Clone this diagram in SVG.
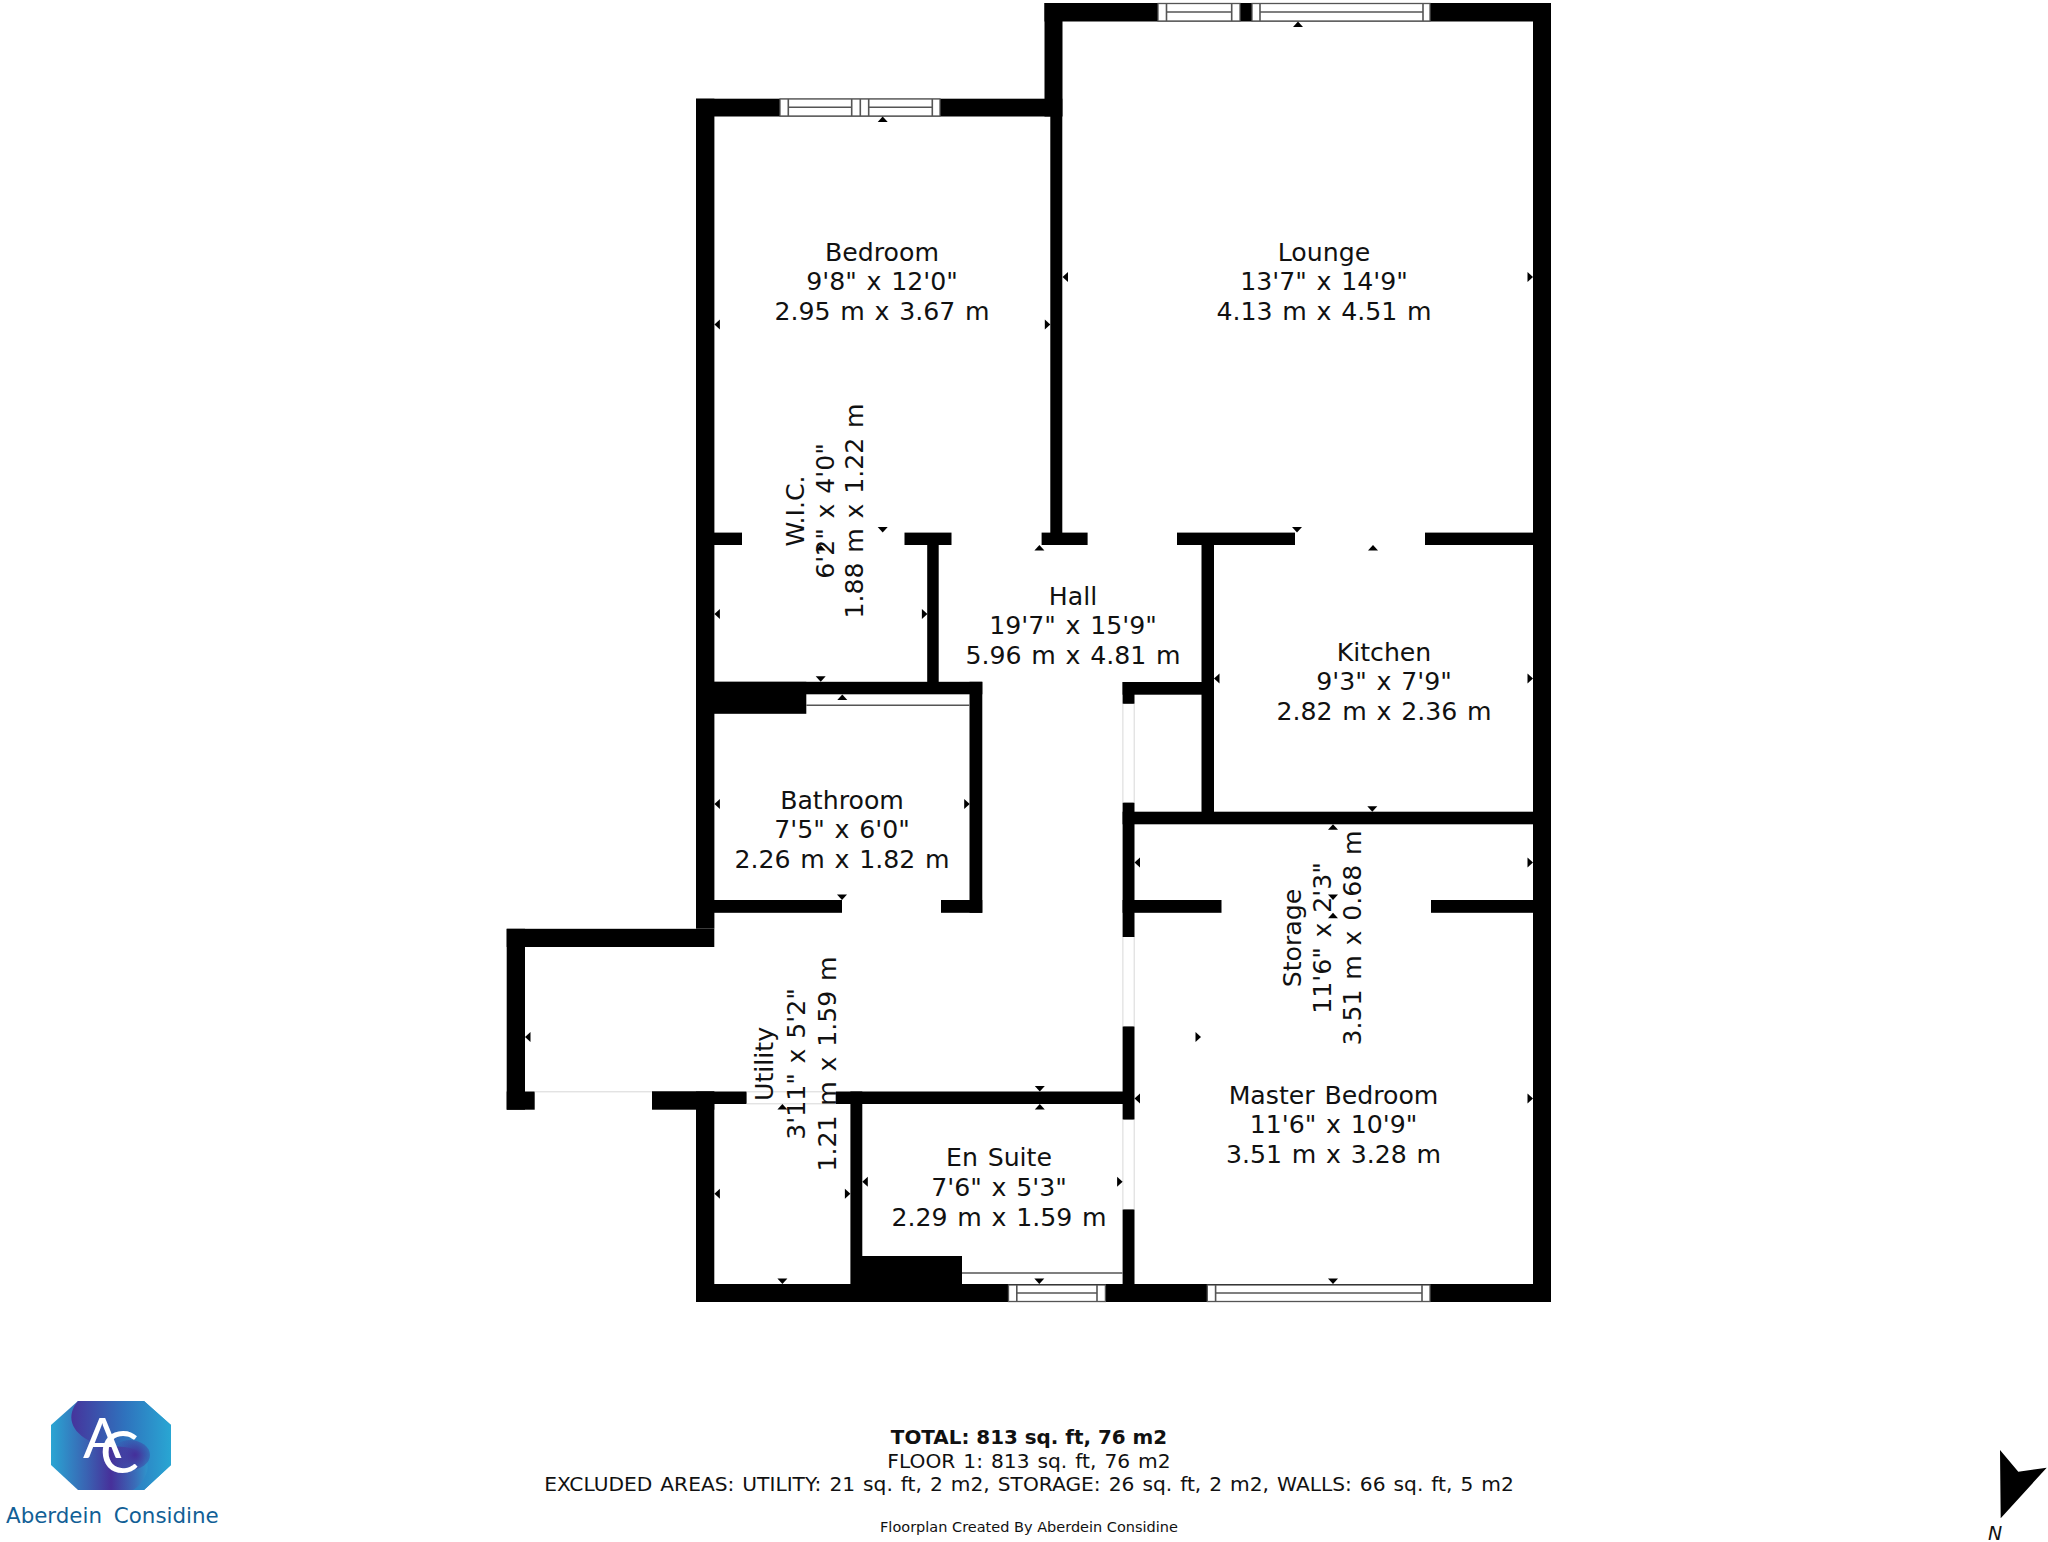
<svg xmlns="http://www.w3.org/2000/svg" width="2048" height="1542" viewBox="0 0 2048 1542">
<style>
.wall{fill:#000}
.win{fill:#fff;stroke:#555;stroke-width:1.3}
.thin{stroke:#555;stroke-width:1.6;fill:none}
.door{stroke:#d8d8d8;stroke-width:1;fill:none}
.lab{font-family:"DejaVu Sans",sans-serif;font-size:25.2px;word-spacing:1.75px;fill:#111;text-anchor:middle}
.foot{font-family:"DejaVu Sans",sans-serif;font-size:20.2px;word-spacing:1.6px;fill:#111;text-anchor:middle}
</style>
<defs>
<polygon id="au" points="0,0 5,5.5 -5,5.5" fill="#000"/>
<polygon id="ad" points="0,0 5,-5.5 -5,-5.5" fill="#000"/>
<polygon id="al" points="0,0 5.5,-5 5.5,5" fill="#000"/>
<polygon id="ar" points="0,0 -5.5,-5 -5.5,5" fill="#000"/>
<linearGradient id="lobeB" gradientUnits="userSpaceOnUse" x1="51" y1="0" x2="171" y2="0"><stop offset="0" stop-color="#2aa5d3"/><stop offset="0.3" stop-color="#3a62b2"/><stop offset="0.5" stop-color="#47309a"/><stop offset="0.7" stop-color="#3a6cb8"/><stop offset="0.85" stop-color="#2aa5d3"/><stop offset="1" stop-color="#2aa5d3"/></linearGradient>
<linearGradient id="lobeA" gradientUnits="userSpaceOnUse" x1="68" y1="0" x2="171" y2="0"><stop offset="0" stop-color="#47309a"/><stop offset="0.55" stop-color="#2f72bd"/><stop offset="1" stop-color="#29a6d3"/></linearGradient>
<radialGradient id="core" gradientUnits="userSpaceOnUse" cx="135" cy="1455" r="22"><stop offset="0" stop-color="#442f9a"/><stop offset="1" stop-color="#442f9a" stop-opacity="0"/></radialGradient>
</defs>

<g id="walls" class="wall">
<rect x="1044.5" y="3" width="506.5" height="18.5"/>
<rect x="1044.5" y="3" width="18" height="113.5"/>
<rect x="1533" y="3" width="18" height="1299"/>
<rect x="1050.3" y="98.7" width="12" height="446.3"/>
<rect x="696" y="98.7" width="366" height="17.8"/>
<rect x="696" y="98.7" width="18.4" height="830"/>
<rect x="714" y="532.6" width="28" height="12.4"/>
<rect x="904.5" y="532.6" width="47" height="12.4"/>
<rect x="1041.6" y="532.6" width="46" height="12.4"/>
<rect x="1177" y="532.6" width="118" height="12.4"/>
<rect x="1425" y="532.6" width="108" height="12.4"/>
<rect x="927.2" y="545" width="11.5" height="137"/>
<rect x="1201.5" y="545" width="12.5" height="267"/>
<rect x="696" y="681.8" width="286.3" height="12.5"/>
<rect x="696" y="681.8" width="110.3" height="32"/>
<rect x="969.5" y="681.8" width="12.8" height="231"/>
<rect x="1122.6" y="682" width="80" height="12.7"/>
<rect x="1122.6" y="682" width="11.9" height="21.8"/>
<rect x="1122.6" y="802.6" width="11.9" height="134.4"/>
<rect x="1122.6" y="1026.4" width="11.9" height="93.2"/>
<rect x="1122.6" y="1209.4" width="11.9" height="92.6"/>
<rect x="1122.6" y="811.7" width="428" height="12.6"/>
<rect x="1122.6" y="900" width="98.9" height="12.8"/>
<rect x="1431" y="900" width="102" height="12.8"/>
<rect x="714" y="900" width="128" height="12.8"/>
<rect x="941" y="900" width="41.3" height="12.8"/>
<rect x="506.7" y="928.8" width="207.6" height="18.2"/>
<rect x="506.7" y="928.8" width="18.3" height="180.9"/>
<rect x="506.7" y="1091.5" width="28" height="18.2"/>
<rect x="652" y="1091.5" width="62.3" height="18.2"/>
<rect x="652" y="1091.5" width="94.6" height="12.5"/>
<rect x="835.7" y="1091.5" width="288" height="12.5"/>
<rect x="696" y="1091.5" width="18.3" height="210.5"/>
<rect x="850.4" y="1091.5" width="11.9" height="210.5"/>
<rect x="862" y="1256" width="100" height="46"/>
<rect x="696" y="1284" width="855" height="18"/>
</g>

<g id="windows">
<g id="win1"><rect class="win" x="1158" y="3.5" width="82" height="17.5"/><path class="thin" d="M1166.5 3.5V21M1231.7 3.5V21M1166.5 12H1231.7"/></g>
<g id="win2"><rect class="win" x="1252" y="3.5" width="178" height="17.5"/><path class="thin" d="M1260 3.5V21M1423 3.5V21M1260 12H1423"/></g>
<g id="win3"><rect class="win" x="780" y="99" width="160" height="17"/><path class="thin" d="M788.3 99V116M851.7 99V116M860.3 99V116M868.7 99V116M932.3 99V116M788.3 107.3H851.7M868.7 107.3H932.3"/></g>
<g id="win4"><rect class="win" x="1008.5" y="1285" width="96.9" height="16.5"/><path class="thin" d="M1016.8 1285V1301.5M1097 1285V1301.5M1016.8 1293H1097"/></g>
<g id="win5"><rect class="win" x="1207.3" y="1285" width="222.7" height="16.5"/><path class="thin" d="M1215.6 1285V1301.5M1422 1285V1301.5M1215.6 1293H1422"/></g>
<path class="thin" d="M806.3 705.3H969.5M962 1273H1122.6"/>
<path class="door" d="M534.7 1091.8H652M746.6 1091.8H835.7M746.6 1103.8H835.7M1122.9 703.8V802.6M1134.2 703.8V802.6M1122.9 937V1026.4M1134.2 937V1026.4M1122.9 1119.6V1209.4M1134.2 1119.6V1209.4"/>
</g>

<g id="dimension-arrows">
<use href="#au" x="1298" y="21.5"/><use href="#au" x="882.7" y="116.5"/><use href="#au" x="1039.4" y="545"/><use href="#au" x="1373" y="545"/><use href="#au" x="820.6" y="545"/><use href="#au" x="842.3" y="694.5"/><use href="#au" x="1333" y="824.3"/><use href="#au" x="1333" y="912.8"/><use href="#au" x="1039.8" y="1104"/><use href="#au" x="782.4" y="1104"/>
<use href="#ad" x="882.7" y="532.6"/><use href="#ad" x="1297" y="532.6"/><use href="#ad" x="820.7" y="681.7"/><use href="#ad" x="842" y="900"/><use href="#ad" x="1372.3" y="811.7"/><use href="#ad" x="1333" y="900"/><use href="#ad" x="1039.8" y="1091.5"/><use href="#ad" x="782.4" y="1284"/><use href="#ad" x="1039.3" y="1284"/><use href="#ad" x="1333" y="1284"/>
<use href="#al" x="1062.5" y="277"/><use href="#al" x="714.4" y="324.6"/><use href="#al" x="714.4" y="614"/><use href="#al" x="1214" y="678.6"/><use href="#al" x="714.4" y="804"/><use href="#al" x="1134.5" y="862.5"/><use href="#al" x="525" y="1037"/><use href="#al" x="714.4" y="1193.8"/><use href="#al" x="862.3" y="1181.7"/><use href="#al" x="1134.5" y="1098.4"/>
<use href="#ar" x="1533" y="277"/><use href="#ar" x="1050.3" y="324.6"/><use href="#ar" x="927.4" y="614"/><use href="#ar" x="1533" y="678.6"/><use href="#ar" x="969.7" y="804"/><use href="#ar" x="1533" y="862.5"/><use href="#ar" x="1201" y="1037"/><use href="#ar" x="850.4" y="1193.8"/><use href="#ar" x="1122.6" y="1181.7"/><use href="#ar" x="1533" y="1098.4"/>
</g>

<g id="room-bedroom"><text class="lab" x="882" y="261">Bedroom</text><text class="lab" x="882" y="290">9'8" x 12'0"</text><text class="lab" x="882" y="320">2.95 m x 3.67 m</text></g>
<g id="room-lounge"><text class="lab" x="1324" y="261">Lounge</text><text class="lab" x="1324" y="290">13'7" x 14'9"</text><text class="lab" x="1324" y="320">4.13 m x 4.51 m</text></g>
<g id="room-hall"><text class="lab" x="1073" y="605">Hall</text><text class="lab" x="1073" y="634">19'7" x 15'9"</text><text class="lab" x="1073" y="664">5.96 m x 4.81 m</text></g>
<g id="room-kitchen"><text class="lab" x="1384" y="661">Kitchen</text><text class="lab" x="1384" y="690">9'3" x 7'9"</text><text class="lab" x="1384" y="720">2.82 m x 2.36 m</text></g>
<g id="room-bathroom"><text class="lab" x="842" y="809">Bathroom</text><text class="lab" x="842" y="838">7'5" x 6'0"</text><text class="lab" x="842" y="868">2.26 m x 1.82 m</text></g>
<g id="room-master"><text class="lab" x="1333.5" y="1104">Master Bedroom</text><text class="lab" x="1333.5" y="1133">11'6" x 10'9"</text><text class="lab" x="1333.5" y="1163">3.51 m x 3.28 m</text></g>
<g id="room-ensuite"><text class="lab" x="999" y="1166">En Suite</text><text class="lab" x="999" y="1196">7'6" x 5'3"</text><text class="lab" x="999" y="1226">2.29 m x 1.59 m</text></g>
<g id="room-wic" transform="translate(0,511) rotate(-90)"><text class="lab" x="0" y="803.5">W.I.C.</text><text class="lab" x="0" y="834">6'2" x 4'0"</text><text class="lab" x="0" y="863">1.88 m x 1.22 m</text></g>
<g id="room-storage" transform="translate(0,938) rotate(-90)"><text class="lab" x="0" y="1301">Storage</text><text class="lab" x="0" y="1331">11'6" x 2'3"</text><text class="lab" x="0" y="1361">3.51 m x 0.68 m</text></g>
<g id="room-utility" transform="translate(0,1064) rotate(-90)"><text class="lab" x="0" y="773">Utility</text><text class="lab" x="0" y="805">3'11" x 5'2"</text><text class="lab" x="0" y="835.5">1.21 m x 1.59 m</text></g>

<g id="summary">
<text class="foot" x="1029" y="1444" font-weight="bold" style="font-size:19.9px;word-spacing:0">TOTAL: 813 sq. ft, 76 m2</text>
<text class="foot" x="1029" y="1468">FLOOR 1: 813 sq. ft, 76 m2</text>
<text class="foot" x="1029" y="1491">EXCLUDED AREAS: UTILITY: 21 sq. ft, 2 m2, STORAGE: 26 sq. ft, 2 m2, WALLS: 66 sq. ft, 5 m2</text>
<text class="foot" x="1029" y="1532" style="font-size:14.5px;word-spacing:0">Floorplan Created By Aberdein Considine</text>
</g>

<g id="logo">
<polygon points="78,1401 144,1401 171,1425 171,1465 144,1490 78,1490 51,1465 51,1425" fill="url(#lobeB)"/>
<path d="M78 1401H144L171 1425V1465L144 1490H133C146 1482 152 1466 144 1456C132 1442 112 1450 92 1442C70 1432 66 1415 78 1401Z" fill="url(#lobeA)"/>
<ellipse cx="130" cy="1455" rx="20" ry="15" fill="url(#core)"/>
<text x="83" y="1458" font-family="Lato,sans-serif" font-size="57" fill="#fff">A</text>
<text x="100" y="1473" font-family="Lato,sans-serif" font-size="58" fill="#fff">C</text>
<text x="6" y="1523" font-family="'DejaVu Sans',sans-serif" font-size="21.4" fill="#125f96" word-spacing="5">Aberdein Considine</text>
</g>

<g id="north">
<polygon points="2000,1450 2018.3,1471.7 2046.7,1467.7 2000.7,1518.3" fill="#000"/>
<text x="1988" y="1540" font-family="'DejaVu Sans',sans-serif" font-style="italic" font-size="19" fill="#111">N</text>
</g>
</svg>
